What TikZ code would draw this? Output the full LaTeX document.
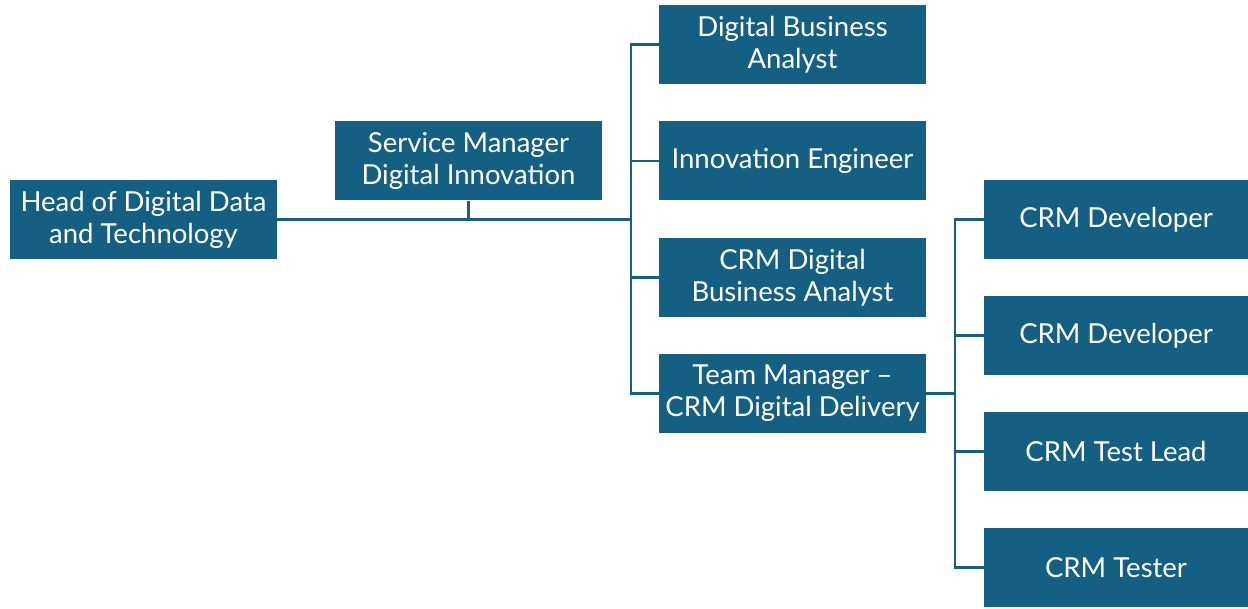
\documentclass[tikz,border=0pt]{standalone}
\usepackage{fontspec}
\setmainfont{Lato}
\usepackage{tikz}
\usetikzlibrary{positioning}
\definecolor{roleblue}{HTML}{156082}
\tikzstyle{role} = [rectangle, fill=roleblue, text=white, align=center,
    minimum width=267pt, minimum height=79pt, inner sep=2pt,
    font=\fontsize{27.5}{32}\selectfont]
\tikzstyle{link} = [draw=roleblue, line width=2.5pt]

\begin{document}
\begin{tikzpicture}[x=1pt, y=-1pt]
\useasboundingbox (0,0) rectangle (1248,609);
% top of the chart
\node [role] (head) at (143.5,219.5) {Head of Digital Data\\and Technology};
\node [role] (svc) at (468.5,161) {Service Manager\\Digital Innovation};
% second column
\node [role] (dba) at (792.5,44.5) {Digital Business\\Analyst};
\node [role] (inno) at (792.5,161) {Innovation Engineer};
\node [role] (crmba) at (792.5,277.5) {CRM Digital\\Business Analyst};
\node [role] (tm) at (792.5,393.5) {Team Manager --\\CRM Digital Delivery};
% third column
\node [role, minimum width=264pt] (dev1) at (1116,219.5) {CRM Developer};
\node [role, minimum width=264pt] (dev2) at (1116,335.5) {CRM Developer};
\node [role, minimum width=264pt] (lead) at (1116,451.5) {CRM Test Lead};
\node [role, minimum width=264pt] (tester) at (1116,567.5) {CRM Tester};
% connectors
\coordinate (busA) at (631,219.5);
\coordinate (busB) at (955,393.5);
\draw [link] (head.east) -- (busA);
\draw [link] (svc.south) -- (svc.south |- busA);
\foreach \n in {dba,inno,crmba,tm}
    \draw [link] (busA) |- (\n.west);
\draw [link] (tm.east) -- (busB);
\foreach \n in {dev1,dev2,lead,tester}
    \draw [link] (busB) |- (\n.west);
\end{tikzpicture}
\end{document}
